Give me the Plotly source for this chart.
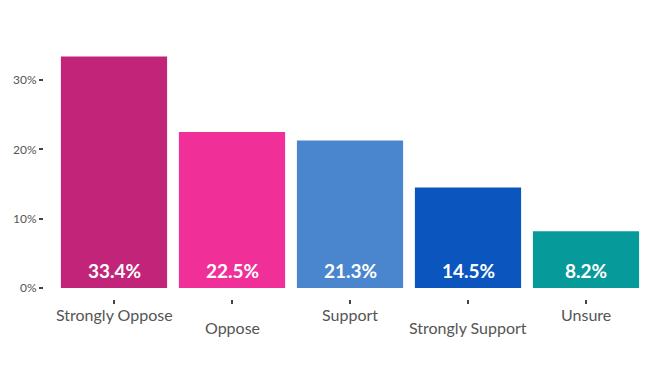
import plotly.graph_objects as go

categories = ["Strongly Oppose", "Oppose", "Support", "Strongly Support", "Unsure"]
values = [33.4, 22.5, 21.3, 14.5, 8.2]
colors = ["#C2247A", "#F03098", "#4A86CE", "#0B55BF", "#079A9A"]
tick_vals = [0, 10, 20, 30]
tick_text = ["0%", "10%", "20%", "30%"]

FONT = "Source Sans Pro, Lato, sans-serif"
OFF = 8  # page body margin offset

xs = list(range(len(categories)))
fig = go.Figure(go.Bar(
    x=xs,
    y=values,
    marker=dict(color=colors, line=dict(width=0)),
    width=0.9,
    hoverinfo="skip",
))

# value labels near bar base
for x, v in zip(xs, values):
    fig.add_annotation(
        x=x, y=0, xref="x", yref="y", text=f"<b>{v:.1f}%</b>",
        showarrow=False, yanchor="middle", yshift=18,
        font=dict(family=FONT, size=19, color="white"),
    )

# staggered category labels
for i, (x, c) in enumerate(zip(xs, categories)):
    fig.add_annotation(
        x=x, y=0, xref="x", yref="paper", text=c, showarrow=False,
        yanchor="middle", yshift=-15 if i % 2 == 0 else -28,
        font=dict(family=FONT, size=16, color="#555555"),
    )

W, H = 661, 367
left, right, top, bottom = 44 - OFF, 648 - OFF, 40 - OFF, 299 - OFF
zero_px = 288 - OFF
px_per_pct = 6.93
fig.update_layout(
    width=W, height=H,
    margin=dict(l=left, r=W - right, t=top, b=H - bottom, pad=0, autoexpand=False),
    plot_bgcolor="white", paper_bgcolor="white",
    showlegend=False,
    font=dict(family=FONT, color="#555555"),
)
fig.update_xaxes(
    tickvals=xs, ticktext=[""] * len(xs), automargin=False,
    range=[-(114 - 44) / 118, (648 - 114) / 118],
    showgrid=False, zeroline=False, showline=False,
    ticks="outside", ticklen=4, tickwidth=1.5, tickcolor="#444444",
)
fig.update_yaxes(
    tickvals=tick_vals, ticktext=tick_text, automargin=False,
    range=[-(bottom - zero_px) / px_per_pct, (zero_px - top) / px_per_pct],
    showgrid=False, zeroline=False, showline=False,
    ticks="outside", ticklen=4, tickwidth=1.5, tickcolor="#444444",
    tickfont=dict(size=12, color="#555555"),
)
fig.write_html("out.html")
